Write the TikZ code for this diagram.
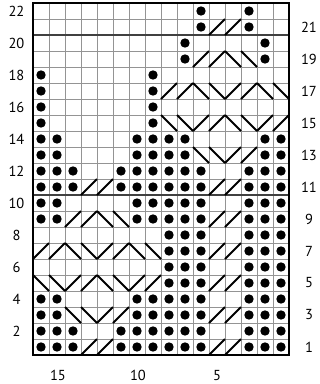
\documentclass[tikz,border=0pt]{standalone}
\usepackage{fontspec}
\setmainfont{PT Sans}
\begin{document}
\begin{tikzpicture}[x=1pt,y=-1pt,
  gridline/.style={draw=black!42, line width=0.9pt},
  sepline/.style={draw=black!75, line width=1.4pt},
  frameline/.style={draw=black, line width=2.5pt},
  stitchline/.style={draw=black, line width=2pt},
  numlabel/.style={font=\fontsize{14.5}{14.5}\selectfont, inner sep=0pt}]
\useasboundingbox (0,0) rectangle (320,384);
% grid
\foreach \i in {1,...,15} \draw[gridline] (33+16*\i,3) -- (33+16*\i,355);
\foreach \k in {1,...,21} \draw[gridline] (33,3+16*\k) -- (289,3+16*\k);
\draw[sepline] (33,35) -- (289,35);
\draw[sepline] (33,195) -- (289,195);
% dots
\foreach \r in {1,...,14} \foreach \i in {8,9,14,15}
  \fill (41+16*\i, 11+16*22-16*\r) circle[radius=4.7pt];
\foreach \r in {1,...,12} \foreach \i in {10,13}
  \fill (41+16*\i, 11+16*22-16*\r) circle[radius=4.7pt];
\foreach \r in {1,2,3,4,9,10,11,12,13,14,15,16,17,18} \foreach \i in {0,7}
  \fill (41+16*\i, 11+16*22-16*\r) circle[radius=4.7pt];
\foreach \r in {1,2,3,4,9,10,11,12,13,14} \foreach \i in {1,6}
  \fill (41+16*\i, 11+16*22-16*\r) circle[radius=4.7pt];
\foreach \r in {1,2,11,12} \foreach \i in {2,5}
  \fill (41+16*\i, 11+16*22-16*\r) circle[radius=4.7pt];
\foreach \i/\r in {10/22,13/22,10/21,13/21,9/20,14/20,9/19,14/19}
  \fill (41+16*\i, 11+16*22-16*\r) circle[radius=4.7pt];
% right-leaning lines
\foreach \i/\r in {11/21,12/21, 10/19,11/19, 8/17,9/17,12/17,13/17,
  10/15,11/15,14/15,15/15, 12/13,13/13, 3/11,4/11,11/11,12/11,
  2/9,3/9,11/9,12/9, 0/7,1/7,4/7,5/7,11/7,12/7,
  2/5,3/5,6/5,7/5,11/5,12/5, 4/3,5/3,11/3,12/3, 3/1,4/1,11/1,12/1}
  \draw[stitchline] (33+16*\i, 19+16*22-16*\r) -- (49+16*\i, 3+16*22-16*\r);
% left-leaning lines
\foreach \i/\r in {12/19,13/19, 10/17,11/17,14/17,15/17, 8/15,9/15,12/15,13/15,
  10/13,11/13, 4/9,5/9, 2/7,3/7,6/7,7/7, 0/5,1/5,4/5,5/5, 2/3,3/3}
  \draw[stitchline] (33+16*\i, 3+16*22-16*\r) -- (49+16*\i, 19+16*22-16*\r);
% frame
\draw[frameline] (33,3) rectangle (289,355);
% labels
\foreach \n in {2,4,...,22}
  \node[numlabel] (L\n) at (16.5, 11+16*22-16*\n) {\n};
\foreach \n in {1,3,...,21}
  \node[numlabel] (R\n) at (309, 11+16*22-16*\n) {\n};
\node[numlabel] (B15) at (58,375.5) {15};
\node[numlabel] (B10) at (138,375.5) {10};
\node[numlabel] (B5) at (217,375.5) {5};
\end{tikzpicture}
\end{document}
